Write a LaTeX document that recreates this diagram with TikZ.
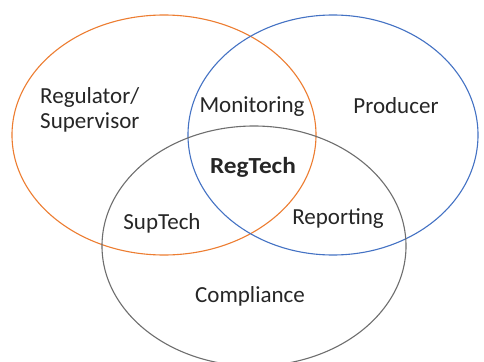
\documentclass[tikz,border=0pt]{standalone}
\usepackage{fontspec}
\setmainfont{Carlito}
\definecolor{vorange}{HTML}{ED7D31}
\definecolor{vblue}{HTML}{4472C4}
\definecolor{vgray}{HTML}{6E6E6E}

\begin{document}
\begin{tikzpicture}[x=1pt,y=-1pt,ring/.style={line width=1.1pt},lbl/.style={font=\fontsize{23}{25}\selectfont,text=black!85,inner sep=0pt}]
\clip (0,0) rectangle (484,361);
\fill[white] (0,0) rectangle (484,361);
% the three sets
\draw[ring,vorange] (164,135) ellipse [x radius=152,y radius=120];
\draw[ring,vblue] (333,135) ellipse [x radius=145,y radius=120];
\draw[ring,vgray] (254,246) ellipse [x radius=152,y radius=120];
% labels
\node[lbl,align=left,anchor=west] (reg) at (40,110) {Regulator/\\Supervisor};
\node[lbl] (mon) at (252,107) {Monitoring};
\node[lbl] (prod) at (396,106) {Producer};
\node[lbl,font=\fontsize{23}{25}\selectfont\bfseries,xscale=1.1] (rt) at (253,167) {RegTech};
\node[lbl] (sup) at (162,223) {SupTech};
\node[lbl] (rep) at (338,219) {Reporting};
\node[lbl] (comp) at (250,296) {Compliance};
\end{tikzpicture}
\end{document}
